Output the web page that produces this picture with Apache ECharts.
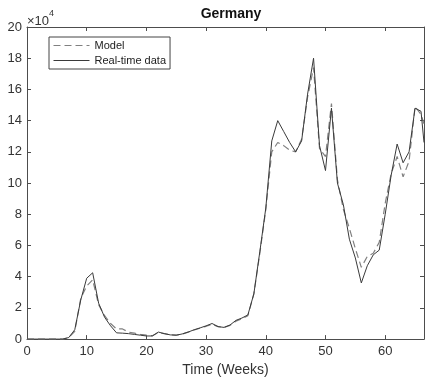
<!DOCTYPE html>
<html>
<head>
<meta charset="utf-8">
<script src="https://cdn.jsdelivr.net/npm/echarts@6/dist/echarts.min.js"></script>
<style>
html,body{margin:0;padding:0;background:#fff;}
#c{width:427px;height:382px;}
</style>
</head>
<body>
<div id="c"></div>
<script>
// Weeks (x values)
var weeks = [0,1,2,3,4,5,6,7,8,9,10,11,12,13,14,15,16,17,18,19,20,21,22,23,24,25,26,27,28,29,30,31,32,33,34,35,36,37,38,39,40,41,42,43,44,45,46,47,48,49,50,51,52,53,54,55,56,57,58,59,60,61,62,63,64,65,66,66.5];
// Real-time data (x10^4)
var realData = [0,0,0,0,0,0,0,0.1,0.6,2.5,3.9,4.25,2.3,1.4,0.85,0.4,0.38,0.35,0.3,0.25,0.2,0.2,0.45,0.35,0.27,0.25,0.33,0.45,0.6,0.72,0.85,1.0,0.8,0.75,0.9,1.2,1.35,1.55,2.9,5.6,8.4,12.7,14.0,13.3,12.6,12.0,12.7,15.7,18.0,12.4,10.8,14.8,10.0,8.6,6.4,5.2,3.6,4.7,5.4,5.7,8.0,10.5,12.5,11.3,12.0,14.8,14.6,12.6];
// Model (x10^4)
var modelData = [0,0,0,0,0,0,0,0.1,0.5,2.6,3.4,3.8,2.2,1.5,1.0,0.65,0.65,0.45,0.38,0.3,0.25,0.22,0.42,0.35,0.28,0.25,0.32,0.45,0.58,0.7,0.82,0.95,0.8,0.75,0.88,1.15,1.3,1.5,2.9,5.5,8.3,12.0,12.6,12.4,12.1,12.0,12.8,15.5,17.4,12.2,11.7,15.1,10.2,8.3,7.1,5.8,4.6,5.3,5.5,6.2,8.7,10.6,11.7,10.4,11.4,14.9,14.4,13.8];
var xTicks = [0,10,20,30,40,50,60];
var yTicks = [0,2,4,6,8,10,12,14,16,18,20];

function pairs(xs, ys){ return xs.map(function(x,i){ return [x, ys[i]]; }); }

var axisColor = '#4d4d4d';
var labelColor = '#333';
var font = 'Liberation Sans, Arial, sans-serif';

var chart = echarts.init(document.getElementById('c'), null, {renderer:'canvas'});
var option = {
  backgroundColor: '#fff',
  animation: false,
  title: {
    text: 'Germany',
    left: 226, top: 2, textAlign: 'center',
    textStyle: {fontFamily: font, fontSize: 14, fontWeight: 'bold', color: '#111'}
  },
  legend: {
    orient: 'vertical',
    left: 49, top: 37,
    padding: [3, 4, 3, 4],
    itemWidth: 36, itemHeight: 12, itemGap: 4,
    borderColor: '#444', borderWidth: 1, backgroundColor: '#fff',
    itemStyle: {color: 'rgba(0,0,0,0)', borderWidth: 0, opacity: 0},
    lineStyle: {width: 1},
    textStyle: {fontFamily: font, fontSize: 11, color: '#222'},
    data: ['Model', 'Real-time data']
  },
  grid: {left: 27, right: 1, top: 27, bottom: 39},
  xAxis: [{
    type: 'value', min: 0, max: 66.5, interval: 10,
    name: 'Time (Weeks)', nameLocation: 'middle', nameGap: 19,
    nameTextStyle: {fontFamily: font, fontSize: 14, color: labelColor},
    axisLine: {show: true, onZero: false, lineStyle: {color: axisColor, width: 1}},
    axisTick: {show: true, inside: true, length: 4, lineStyle: {color: axisColor}},
    axisLabel: {fontFamily: font, fontSize: 13, color: labelColor, margin: 6,
      formatter: function(v){ return xTicks.indexOf(v) >= 0 ? String(v) : ''; }},
    splitLine: {show: false}
  },{
    type: 'value', position: 'top', min: 0, max: 66.5, interval: 10,
    axisLine: {show: true, onZero: false, lineStyle: {color: axisColor, width: 1}},
    axisTick: {show: true, inside: true, length: 4, lineStyle: {color: axisColor}},
    axisLabel: {show: false}, splitLine: {show: false}
  }],
  yAxis: [{
    type: 'value', min: 0, max: 20, interval: 2,
    axisLine: {show: true, onZero: false, lineStyle: {color: axisColor, width: 1}},
    axisTick: {show: true, inside: true, length: 4, lineStyle: {color: axisColor}},
    axisLabel: {fontFamily: font, fontSize: 13, color: labelColor, margin: 5,
      formatter: function(v){ return yTicks.indexOf(v) >= 0 ? String(v) : ''; }},
    splitLine: {show: false}
  },{
    type: 'value', position: 'right', min: 0, max: 20, interval: 2,
    axisLine: {show: true, onZero: false, lineStyle: {color: axisColor, width: 1}},
    axisTick: {show: true, inside: true, length: 4, lineStyle: {color: axisColor}},
    axisLabel: {show: false}, splitLine: {show: false}
  }],
  graphic: [{
    type: 'text', left: 27, top: 9,
    style: {
      text: '{a|×10}{b|4}',
      rich: {
        a: {fontFamily: font, fontSize: 13, fill: labelColor, padding: [6,0,0,0]},
        b: {fontFamily: font, fontSize: 9, fill: labelColor, verticalAlign: 'top'}
      }
    }
  }],
  series: [{
    name: 'Model', type: 'line', xAxisIndex: 0, yAxisIndex: 0,
    data: pairs(weeks, modelData),
    symbol: 'none', smooth: false, z: 2,
    lineStyle: {color: '#808080', width: 1.2, type: [7, 4]},
    itemStyle: {color: '#808080'}
  },{
    name: 'Real-time data', type: 'line', xAxisIndex: 0, yAxisIndex: 0,
    data: pairs(weeks, realData),
    symbol: 'none', smooth: false, z: 3,
    lineStyle: {color: '#3a3a3a', width: 1},
    itemStyle: {color: '#3a3a3a'}
  }]
};
chart.setOption(option);
</script>
</body>
</html>
